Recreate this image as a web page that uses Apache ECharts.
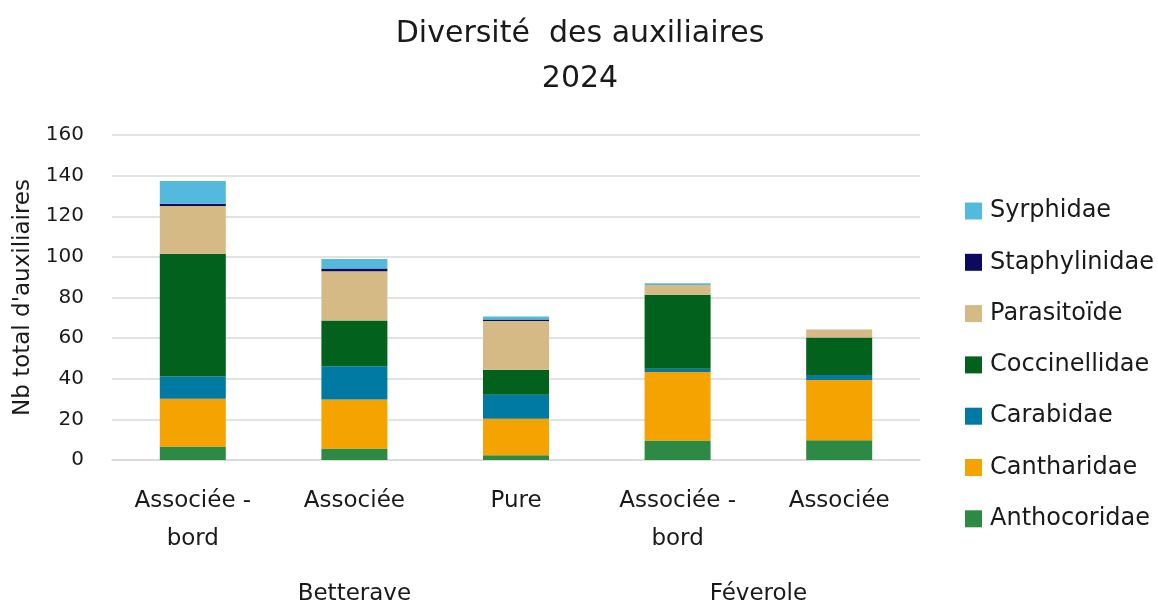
<!DOCTYPE html>
<html><head><meta charset="utf-8">
<script src="https://cdn.jsdelivr.net/npm/echarts@6/dist/echarts.min.js"></script>
<style>html,body{margin:0;padding:0;background:#fff}#c{width:1158px;height:606px}</style>
</head><body><div id="c"></div>
<script>
const categories = ['Associée -\nbord', 'Associée', 'Pure', 'Associée -\nbord', 'Associée'];
const groupLabels = ['Betterave', 'Féverole'];
const yTicks = [0, 20, 40, 60, 80, 100, 120, 140, 160];
const anthocoridae = [6.6, 5.7, 2.4, 9.6, 9.7];
const cantharidae = [23.5, 24.1, 17.9, 33.7, 29.7];
const carabidae = [11, 16.4, 11.8, 1.6, 2.4];
const coccinellidae = [60.5, 22.5, 12.3, 36.4, 18.5];
const parasitoide = [23.5, 24.2, 24, 4.9, 4];
const staphylinidae = [1, 1.4, 0.8, 0, 0];
const syrphidae = [11.3, 4.6, 1.4, 0.8, 0];

const seriesDefs = [
  ['Anthocoridae', anthocoridae, '#2D8A45'],
  ['Cantharidae', cantharidae, '#F4A300'],
  ['Carabidae', carabidae, '#0079A3'],
  ['Coccinellidae', coccinellidae, '#02611C'],
  ['Parasitoïde', parasitoide, '#D5BA86'],
  ['Staphylinidae', staphylinidae, '#0A0A5F'],
  ['Syrphidae', syrphidae, '#54BADD']
];
const FONT = 'DejaVu Sans';
const TXT = '#1a1a1a';
const chart = echarts.init(document.getElementById('c'));
chart.setOption({
  animation: false,
  textStyle: {fontFamily: FONT},
  title: {
    text: 'Diversité  des auxiliaires\n2024',
    left: 575, top: 7, textAlign: 'center',
    textStyle: {fontFamily: FONT, fontSize: 30, fontWeight: 'normal', lineHeight: 45, color: TXT}
  },
  legend: {
    orient: 'vertical', left: 960, top: 194,
    data: seriesDefs.map(d => d[0]).reverse(),
    itemWidth: 17, itemHeight: 17, itemGap: 27.3, icon: 'rect',
    textStyle: {fontFamily: FONT, fontSize: 24, lineHeight: 24, color: TXT, padding: [0, 0, 0, 3]}
  },
  grid: {left: 112, right: 238, top: 135, bottom: 142},
  xAxis: [{
    type: 'category', data: categories,
    axisTick: {show: false},
    axisLine: {lineStyle: {color: '#d9d9d9', width: 1.5}},
    axisLabel: {fontFamily: FONT, fontSize: 23, color: TXT, lineHeight: 38, margin: 22, interval: 0}
  }, {
    type: 'value', min: 0, max: 5, interval: 0.5, position: 'bottom',
    axisLine: {show: false}, axisTick: {show: false}, splitLine: {show: false},
    axisLabel: {
      fontFamily: FONT, fontSize: 23, lineHeight: 24, color: TXT, margin: 122, showMinLabel: true, showMaxLabel: true,
      formatter: v => Math.abs(v - 1.5) < 1e-6 ? groupLabels[0] : (Math.abs(v - 4) < 1e-6 ? groupLabels[1] : '')
    }
  }],
  yAxis: {
    type: 'value', min: yTicks[0], max: yTicks[yTicks.length - 1], interval: 20,
    name: "Nb total d'auxiliaires", nameLocation: 'middle', nameRotate: 90, nameGap: 75,
    nameTextStyle: {fontFamily: FONT, fontSize: 23, color: TXT},
    axisLine: {show: false}, axisTick: {show: false},
    splitLine: {lineStyle: {color: '#d9d9d9', width: 1.5}},
    axisLabel: {fontFamily: FONT, fontSize: 20, color: TXT, margin: 28}
  },
  series: seriesDefs.map(d => ({
    name: d[0], type: 'bar', stack: 'total', data: d[1], barWidth: 66,
    itemStyle: {color: d[2]}
  }))
});
</script></body></html>
